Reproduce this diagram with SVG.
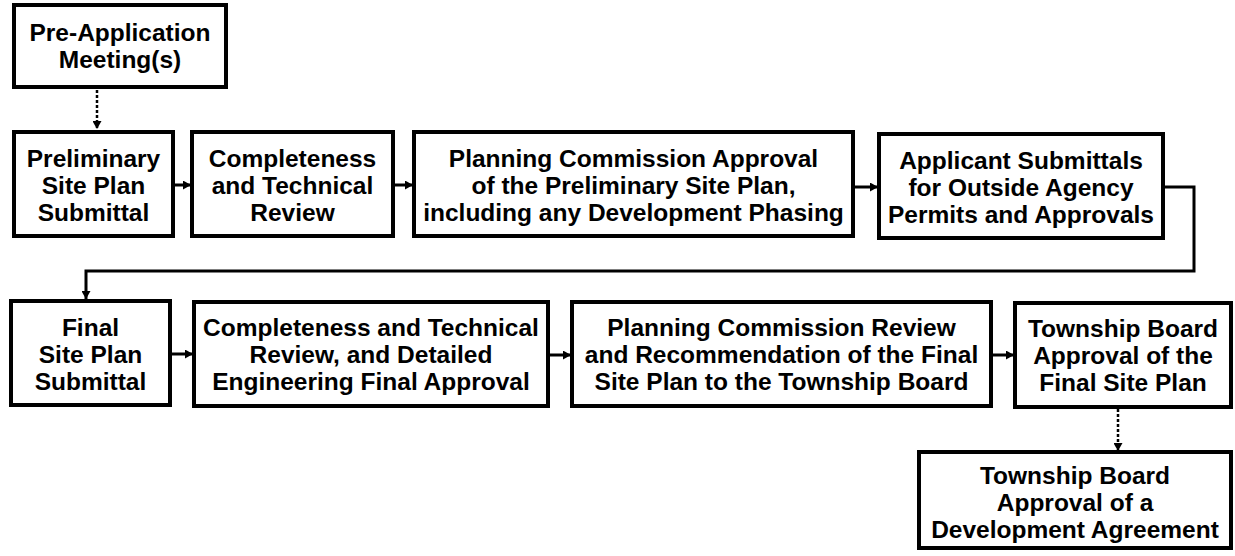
<svg xmlns="http://www.w3.org/2000/svg" width="1235" height="556" viewBox="0 0 1235 556">
<style>
  .box { fill: #fff; stroke: #000; stroke-width: 4; }
  .t { font-family: "Liberation Sans", Arial, sans-serif; font-weight: bold; font-size: 24.5px; fill: #000; text-anchor: middle; }
  .c { fill: none; stroke: #000; stroke-width: 3; }
  .d { fill: none; stroke: #000; stroke-width: 2.5; stroke-dasharray: 3 2; }
</style>
<defs>
  <marker id="ah" markerUnits="userSpaceOnUse" markerWidth="9" markerHeight="9" refX="8" refY="4.5" orient="auto">
    <path d="M0,0 L8,4.5 L0,9 z" fill="#000"/>
  </marker>
</defs>
<rect width="1235" height="556" fill="#fff"/>
<g id="connectors">
  <line class="d" x1="97" y1="90" x2="97" y2="129" marker-end="url(#ah)"/>
  <line class="c" x1="175" y1="185" x2="191" y2="185" marker-end="url(#ah)"/>
  <line class="c" x1="395" y1="185" x2="413" y2="185" marker-end="url(#ah)"/>
  <line class="c" x1="855" y1="187" x2="878" y2="187" marker-end="url(#ah)"/>
  <path class="c" d="M1165,187 H1194 V271 H86 V299" marker-end="url(#ah)"/>
  <line class="c" x1="172" y1="354" x2="193" y2="354" marker-end="url(#ah)"/>
  <line class="c" x1="550" y1="355" x2="571" y2="355" marker-end="url(#ah)"/>
  <line class="c" x1="993" y1="355" x2="1014" y2="355" marker-end="url(#ah)"/>
  <line class="d" x1="1118" y1="409" x2="1118" y2="451" marker-end="url(#ah)"/>
</g>
<g id="pre-application">
  <rect class="box" x="14" y="5" width="212" height="82"/>
  <text class="t" x="120" y="41">Pre-Application</text>
  <text class="t" x="120" y="68">Meeting(s)</text>
</g>
<g id="preliminary-submittal">
  <rect class="box" x="14" y="132" width="159" height="104"/>
  <text class="t" x="93.5" y="167">Preliminary</text>
  <text class="t" x="93.5" y="194">Site Plan</text>
  <text class="t" x="93.5" y="221">Submittal</text>
</g>
<g id="completeness-review">
  <rect class="box" x="192" y="132" width="201" height="104"/>
  <text class="t" x="292.5" y="167">Completeness</text>
  <text class="t" x="292.5" y="194">and Technical</text>
  <text class="t" x="292.5" y="221">Review</text>
</g>
<g id="pc-approval-preliminary">
  <rect class="box" x="414" y="132" width="439" height="104"/>
  <text class="t" x="633.5" y="167">Planning Commission Approval</text>
  <text class="t" x="633.5" y="194">of the Preliminary Site Plan,</text>
  <text class="t" x="633.5" y="221">including any Development Phasing</text>
</g>
<g id="outside-agency">
  <rect class="box" x="879" y="134" width="284" height="104"/>
  <text class="t" x="1021" y="169">Applicant Submittals</text>
  <text class="t" x="1021" y="196">for Outside Agency</text>
  <text class="t" x="1021" y="223">Permits and Approvals</text>
</g>
<g id="final-submittal">
  <rect class="box" x="11" y="301" width="159" height="104"/>
  <text class="t" x="90.5" y="336">Final</text>
  <text class="t" x="90.5" y="363">Site Plan</text>
  <text class="t" x="90.5" y="390">Submittal</text>
</g>
<g id="final-review">
  <rect class="box" x="194" y="302" width="354" height="104"/>
  <text class="t" x="371" y="336">Completeness and Technical</text>
  <text class="t" x="371" y="363">Review, and Detailed</text>
  <text class="t" x="371" y="390">Engineering Final Approval</text>
</g>
<g id="pc-recommendation">
  <rect class="box" x="572" y="302" width="419" height="104"/>
  <text class="t" x="781.5" y="336">Planning Commission Review</text>
  <text class="t" x="781.5" y="363">and Recommendation of the Final</text>
  <text class="t" x="781.5" y="390">Site Plan to the Township Board</text>
</g>
<g id="board-final-approval">
  <rect class="box" x="1015" y="303" width="216" height="104"/>
  <text class="t" x="1123" y="337">Township Board</text>
  <text class="t" x="1123" y="364">Approval of the</text>
  <text class="t" x="1123" y="391">Final Site Plan</text>
</g>
<g id="development-agreement">
  <rect class="box" x="919" y="452" width="312" height="96"/>
  <text class="t" x="1075" y="484">Township Board</text>
  <text class="t" x="1075" y="511">Approval of a</text>
  <text class="t" x="1075" y="538">Development Agreement</text>
</g>
</svg>
